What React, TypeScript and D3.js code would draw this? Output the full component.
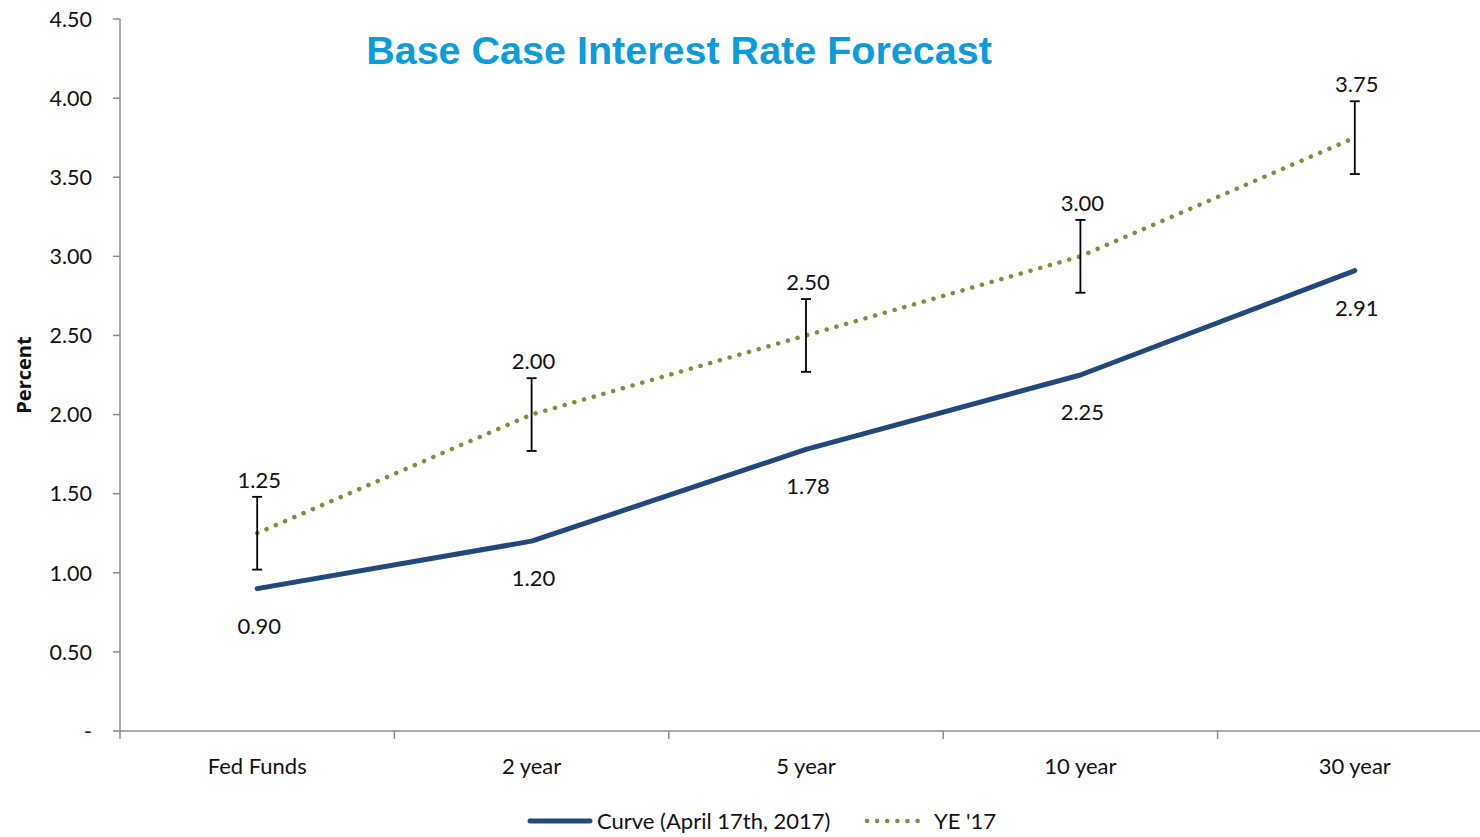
import React from "react";
import * as d3 from "d3";

const categories = ["Fed Funds", "2 year", "5 year", "10 year", "30 year"];
const curveValues = [0.9, 1.2, 1.78, 2.25, 2.91];
const yeValues = [1.25, 2.0, 2.5, 3.0, 3.75];
const yeError = [0.23, 0.23, 0.23, 0.23, 0.23];
const yTicks = [0, 0.5, 1, 1.5, 2, 2.5, 3, 3.5, 4, 4.5];

const W = 1480;
const H = 837;
const left = 120;
const top = 19;
const bottom = 731;
const right = 1492;

export default function App() {
  const y = d3.scaleLinear().domain([0, 4.5]).range([bottom, top]);
  const x = d3.scaleBand().domain(categories).range([left, right]);
  const cx = (c: string) => (x(c) as number) + x.bandwidth() / 2;
  const line = d3
    .line<number>()
    .x((_, i) => cx(categories[i]))
    .y((d) => y(d));
  const font = "Lato, 'Open Sans', sans-serif";
  const axisColor = "#8c8c8c";
  const blue = "#22497c";
  const green = "#77933c";
  const bandTicks = categories.map((c) => x(c) as number).concat([right]);

  return (
    <svg
      width={W}
      height={H}
      style={{ position: "absolute", left: 0, top: 0, background: "#fff" }}
      fontFamily={font}
    >
      <rect x={0} y={0} width={W} height={H} fill="#fff" />
      {/* title */}
      <text
        x={679}
        y={64}
        textAnchor="middle"
        fontFamily="'Liberation Sans', Arial, sans-serif"
        fontWeight="bold"
        fontSize={39.5}
        fill="#0a9cdb"
      >
        Base Case Interest Rate Forecast
      </text>
      {/* y axis */}
      <line x1={left} x2={left} y1={top} y2={bottom} stroke={axisColor} strokeWidth={1.5} />
      {yTicks.map((t) => (
        <g key={t}>
          <line x1={left - 7} x2={left} y1={y(t)} y2={y(t)} stroke={axisColor} strokeWidth={1.5} />
          <text
            x={92}
            y={y(t)}
            dy="0.36em"
            textAnchor="end"
            fontSize={21.5}
            fill="#111"
          >
            {t === 0 ? "-" : t.toFixed(2)}
          </text>
        </g>
      ))}
      <text
        transform={`translate(31,375) rotate(-90)`}
        textAnchor="middle"
        fontFamily="'Open Sans', sans-serif"
        fontSize={20}
        fontWeight="bold"
        fill="#111"
      >
        Percent
      </text>
      {/* x axis */}
      <line x1={left} x2={W} y1={bottom} y2={bottom} stroke={axisColor} strokeWidth={1.5} />
      {bandTicks.map((t, i) => (
        <line key={i} x1={t} x2={t} y1={bottom} y2={bottom + 8} stroke={axisColor} strokeWidth={1.5} />
      ))}
      {categories.map((c) => (
        <text key={c} x={cx(c)} y={774} textAnchor="middle" fontSize={22} fill="#111">
          {c}
        </text>
      ))}
      {/* curve line */}
      <path d={line(curveValues) || ""} fill="none" stroke={blue} strokeWidth={5} strokeLinejoin="round" strokeLinecap="round" />
      {/* YE dotted line */}
      <path
        d={line(yeValues) || ""}
        fill="none"
        stroke={green}
        strokeWidth={4.5}
        strokeLinecap="round"
        strokeDasharray="0.1 10"
      />
      {/* error bars */}
      {yeValues.map((v, i) => {
        const px = cx(categories[i]);
        const y1 = y(v + yeError[i]);
        const y2 = y(v - yeError[i]);
        return (
          <g key={i} stroke="#000" strokeWidth={1.8}>
            <line x1={px} x2={px} y1={y1} y2={y2} />
            <line x1={px - 5} x2={px + 5} y1={y1} y2={y1} />
            <line x1={px - 5} x2={px + 5} y1={y2} y2={y2} />
          </g>
        );
      })}
      {/* labels */}
      {yeValues.map((v, i) => (
        <text key={"ye" + i} x={cx(categories[i]) + 2} y={y(v + yeError[i]) - 9} textAnchor="middle" fontSize={22} fill="#111">
          {v.toFixed(2)}
        </text>
      ))}
      {curveValues.map((v, i) => (
        <text key={"c" + i} x={cx(categories[i]) + 2} y={y(v) + 45} textAnchor="middle" fontSize={22} fill="#111">
          {v.toFixed(2)}
        </text>
      ))}
      {/* legend */}
      <line x1={530} x2={590} y1={821} y2={821} stroke={blue} strokeWidth={5} strokeLinecap="round" />
      <text x={597} y={829} fontSize={22} fill="#111">
        Curve (April 17th, 2017)
      </text>
      <line x1={867} x2={922} y1={821} y2={821} stroke={green} strokeWidth={4.5} strokeLinecap="round" strokeDasharray="0.1 10" />
      <text x={934} y={829} fontSize={22} fill="#111">
        YE '17
      </text>
    </svg>
  );
}
